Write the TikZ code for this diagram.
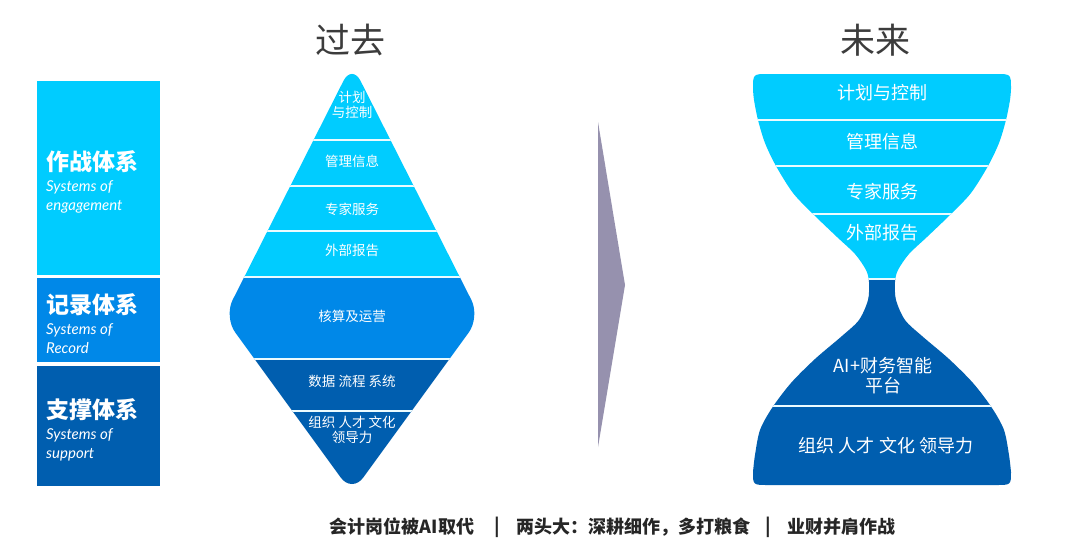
\documentclass[tikz,border=0pt]{standalone}
\usepackage{fontspec}
\setmainfont{Noto Sans CJK SC}
\newfontfamily\enfont{Lato}
\usepackage{tikz}
\usetikzlibrary{positioning}
\definecolor{cyanband}{HTML}{00CCFF}
\definecolor{midband}{HTML}{0088E8}
\definecolor{darkband}{HTML}{005EAF}
\definecolor{arrowgray}{HTML}{9691AE}
\definecolor{titlegray}{HTML}{3C3C3C}
\tikzset{
	sys box/.style={minimum width=123pt,inner sep=0pt},
	sys head/.style={anchor=west,inner sep=0pt,text=white,font=\fontsize{23}{26}\selectfont\bfseries},
	sys text/.style={anchor=west,inner sep=0pt,text=white,align=left,font=\enfont\itshape\fontsize{15}{19}\selectfont},
	old label/.style={text=white,align=center,inner sep=0pt,font=\fontsize{13.5}{15}\selectfont},
	new label/.style={text=white,align=center,inner sep=0pt,font=\fontsize{18}{20}\selectfont},
	sep line/.style={white!92!cyanband,line width=1.6pt},
	title/.style={text=titlegray,font=\fontsize{35}{40}\selectfont},
	foot/.style={text=black!85,inner sep=0pt,font=\fontsize{18}{20}\selectfont\bfseries}
}

\begin{document}
\begin{tikzpicture}[x=1pt,y=-1pt]
\useasboundingbox (0,0) rectangle (1080,541);
\fill[white] (0,0) rectangle (1080,541);

\node[sys box,fill=cyanband,minimum height=194pt] (engage) at (98.5,178) {};
\node[sys box,fill=midband,minimum height=84pt] (record) at (98.5,320) {};
\node[sys box,fill=darkband,minimum height=120pt] (support) at (98.5,426) {};
\node[sys head] (engage head) at (46,162) {作战体系};
\node[sys text] (engage en) at (46,196.5) {Systems of\\engagement};
\node[sys head] (record head) at (46,305) {记录体系};
\node[sys text] (record en) at (46,338.5) {Systems of\\Record};
\node[sys head] (support head) at (46,410) {支撑体系};
\node[sys text] (support en) at (46,445) {Systems of\\support};

\node[title] (past) at (350,40) {过去};
\node[title] (future) at (875,40) {未来};

\begin{scope}
\clip[rounded corners=19pt] (352,64) -- (480,317) -- (352,493) -- (224,317) -- cycle;
\fill[cyanband] (215,55) rectangle (490,277);
\fill[midband] (215,277) rectangle (490,359);
\fill[darkband] (215,359) rectangle (490,500);
\draw[sep line] (215,140) -- (490,140) (215,186) -- (490,186) (215,231) -- (490,231)
	(215,277) -- (490,277) (215,359) -- (490,359) (215,411) -- (490,411);
\end{scope}
\node[old label] (plan old) at (352,104.5) {计划\\与控制};
\node[old label] (info old) at (352,161) {管理信息};
\node[old label] (expert old) at (352,209) {专家服务};
\node[old label] (report old) at (352,250) {外部报告};
\node[old label] (account old) at (352,316) {核算及运营};
\node[old label] (data old) at (352,381) {数据 流程 系统};
\node[old label] (org old) at (352,430) {组织 人才 文化\\领导力};

\fill[arrowgray] (598,122) -- (625,285) -- (598,447) -- cycle;

\begin{scope}
\clip (768,74) -- (996,74) .. controls (1011,74) .. (1011,89)
	-- plot[smooth] coordinates {(1011,89) (1010,100) (1006,120) (999,143) (988,166) (971,193) (951,214)
		(927,237) (909,254) (898,270) (895,282) (896,300) (905,320) (922,336) (949,359) (973,383)
		(992,408) (1004,430) (1009,455) (1011,472)}
	.. controls (1011,485) .. (996,485) -- (768,485) .. controls (753,485) .. (753,472)
	-- plot[smooth] coordinates {(753,472) (755,455) (760,430) (772,408) (791,383) (815,359) (842,336)
		(859,320) (868,300) (869,282) (866,270) (855,254) (837,237) (813,214) (793,193) (776,166)
		(765,143) (758,120) (754,100) (753,89)}
	.. controls (753,74) .. (768,74) -- cycle;
\fill[cyanband] (740,60) rectangle (1020,279);
\fill[darkband] (740,279) rectangle (1020,495);
\draw[sep line] (740,120) -- (1020,120) (740,166) -- (1020,166) (740,214) -- (1020,214)
	(740,279) -- (1020,279) (740,406) -- (1020,406);
\end{scope}
\node[new label] (plan new) at (882,93) {计划与控制};
\node[new label] (info new) at (882,142) {管理信息};
\node[new label] (expert new) at (882,192) {专家服务};
\node[new label] (report new) at (882,232.5) {外部报告};
\node[new label] (ai new) at (883,376) {AI+财务智能\\平台};
\node[new label] (org new) at (886,446) {组织 人才 文化 领导力};

\node[foot] (replaced) at (402,527) {会计岗位被AI取代};
\node[foot] (bar one) at (497,527) {|};
\node[foot] (two ends) at (633.5,527) {两头大：深耕细作，多打粮食};
\node[foot] (bar two) at (768,527) {|};
\node[foot] (together) at (841.5,527) {业财并肩作战};
\end{tikzpicture}
\end{document}
